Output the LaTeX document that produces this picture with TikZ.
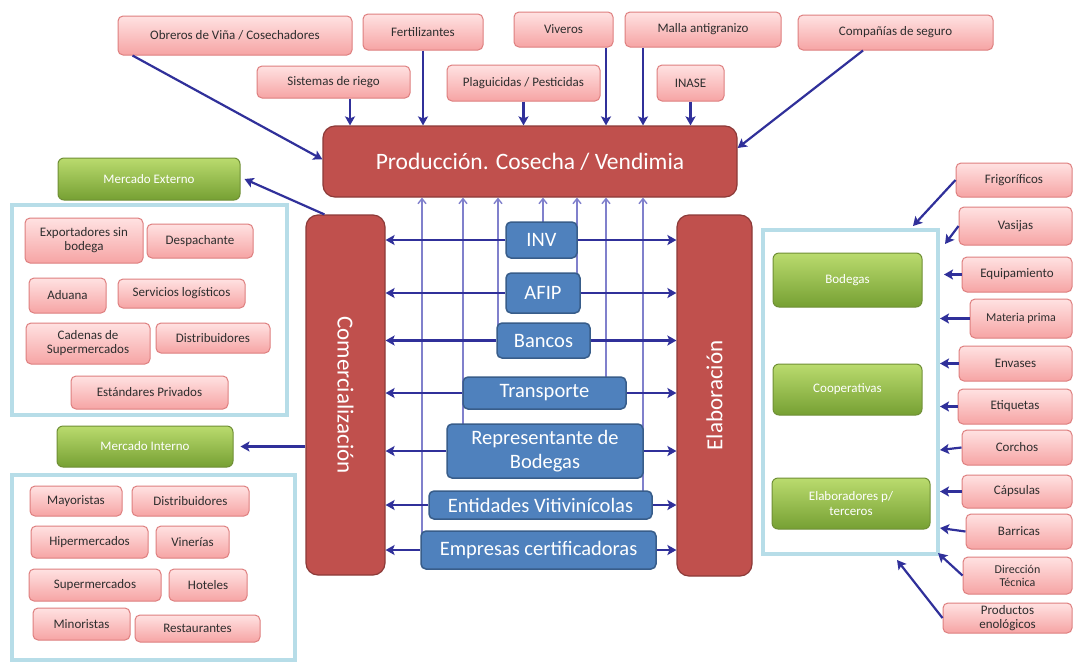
\documentclass[tikz,border=0pt]{standalone}
\usepackage{fontspec}
\setmainfont{Carlito}
\usetikzlibrary{arrows.meta,calc}
\definecolor{arrblue}{HTML}{30309A}
\definecolor{thinblue}{HTML}{8080CC}
\definecolor{redfill}{HTML}{C0504D}
\definecolor{reddraw}{HTML}{8C3A38}
\definecolor{bluefill}{HTML}{4F81BD}
\definecolor{bluedraw}{HTML}{385D8A}
\definecolor{pinktop}{HTML}{FFE2E2}
\definecolor{pinkbot}{HTML}{F6A4A4}
\definecolor{pinkdraw}{HTML}{DE7F7F}
\definecolor{greentop}{HTML}{BADB6E}
\definecolor{greenbot}{HTML}{76A033}
\definecolor{greendraw}{HTML}{6F8F35}
\definecolor{panelc}{HTML}{B7DDE8}
\definecolor{txtc}{HTML}{2E2E2E}
\newcommand\bx[7]{%
  \pgfmathsetmacro\bxW{#5-#3}%
  \pgfmathsetmacro\bxH{#6-#4}%
  \pgfmathsetmacro\bxX{(#3+#5)/2}%
  \pgfmathsetmacro\bxY{(#4+#6)/2}%
  \node[#1,minimum width=\bxW pt,minimum height=\bxH pt] (#2) at (\bxX,\bxY) {#7};}
\tikzset{
  pinkbox/.style={draw=pinkdraw,line width=1pt,rounded corners=5pt,top color=pinktop,bottom color=pinkbot,
    text=txtc,font=\fontsize{13}{14}\selectfont,align=center,inner sep=1pt},
  greenbox/.style={draw=greendraw,line width=1pt,rounded corners=6pt,top color=greentop,bottom color=greenbot,
    text=white,font=\fontsize{13}{15}\selectfont,align=center,inner sep=1pt},
  redbox/.style={draw=reddraw,line width=1.2pt,rounded corners=12pt,fill=redfill,text=white,
    font=\fontsize{23.5}{26}\selectfont,inner sep=1pt},
  bluebox/.style={draw=bluedraw,line width=1.5pt,rounded corners=5pt,fill=bluefill,text=white,
    font=\fontsize{20.5}{24}\selectfont,align=center,inner sep=1pt},
  panel/.style={draw=panelc,line width=4pt,fill=white,inner sep=0pt},
  arr/.style={draw=arrblue,line width=2.2pt,-{Stealth[length=9pt,width=10pt,inset=2pt]}},
  thinarr/.style={draw=thinblue,line width=1.4pt,-{Straight Barb[length=5pt,width=8pt]}},
  vtext/.style={text=white,font=\fontsize{23}{26}\selectfont}
}
\begin{document}
\begin{tikzpicture}[x=1pt,y=-1pt]
\useasboundingbox[fill=white] (0,0) rectangle (1073,662);
% panels
\bx{panel}{lpanA}{12}{205}{287}{415}{}
\bx{panel}{lpanB}{12}{475}{295}{660}{}
\bx{panel}{rpan}{763}{230}{938}{554}{}
% top suppliers
\bx{pinkbox}{obr}{118}{16}{352}{55}{Obreros de Viña / Cosechadores}
\bx{pinkbox}{fer}{363}{14}{483}{50}{Fertilizantes}
\bx{pinkbox}{viv}{514}{12}{613}{47}{Viveros}
\bx{pinkbox}{mal}{625}{12}{781}{47}{Malla antigranizo}
\bx{pinkbox}{cia}{798}{15}{993}{50}{Compañías de seguro}
\bx{pinkbox}{sis}{257}{66}{410}{98}{Sistemas de riego}
\bx{pinkbox}{pla}{447}{65}{600}{101}{Plaguicidas / Pesticidas}
\bx{pinkbox}{ina}{657}{65}{724}{101}{INASE}
% main red boxes
\bx{redbox}{prod}{323}{126}{737}{197}{Producción. Cosecha / Vendimia}
\bx{redbox}{com}{306}{215}{385}{575}{}
\node[vtext,rotate=-90] (comt) at (com.center) {Comercialización};
\bx{redbox}{ela}{677}{215}{752}{576}{}
\node[vtext,rotate=90] (elat) at (ela.center) {Elaboración};
% thin vertical lines (behind blue boxes)
\draw[thinarr] (422,0 |- 0,550) -- (422,0 |- prod.south);
\draw[thinarr] (463,0 |- 0,450) -- (463,0 |- prod.south);
\draw[thinarr] (498,0 |- 0,340) -- (498,0 |- prod.south);
\draw[thinarr] (543,0 |- 0,240) -- (543,0 |- prod.south);
\draw[thinarr] (577,0 |- 0,290) -- (577,0 |- prod.south);
\draw[thinarr] (606,0 |- 0,393) -- (606,0 |- prod.south);
\draw[thinarr] (643,0 |- 0,505) -- (643,0 |- prod.south);
% blue boxes
\bx{bluebox}{inv}{506}{222}{577}{258}{INV}
\bx{bluebox}{afip}{506}{273}{580}{313}{AFIP}
\bx{bluebox}{ban}{497}{323}{590}{358}{Bancos}
\bx{bluebox}{tra}{463}{377}{626}{409}{Transporte}
\bx{bluebox}{rep}{447}{424}{643}{478}{Representante de\\Bodegas}
\bx{bluebox}{ent}{429}{491}{652}{519}{Entidades Vitivinícolas}
\bx{bluebox}{emp}{421}{531}{656}{569}{Empresas certificadoras}
\foreach \b in {inv,afip,ban,tra,rep,ent,emp}{
  \draw[arr] (\b.west) -- (\b.west -| com.east);
  \draw[arr] (\b.east) -- (\b.east -| ela.west);
}
% left side
\bx{greenbox}{mext}{58}{158}{240}{200}{Mercado Externo}
\bx{pinkbox}{exp}{25}{218}{143}{263}{Exportadores sin\\bodega}
\bx{pinkbox}{des}{147}{224}{253}{258}{Despachante}
\bx{pinkbox}{adu}{29}{278}{106}{313}{Aduana}
\bx{pinkbox}{ser}{118}{279}{245}{308}{Servicios logísticos}
\bx{pinkbox}{cad}{26}{323}{150}{364}{Cadenas de\\Supermercados}
\bx{pinkbox}{disA}{156}{323}{270}{353}{Distribuidores}
\bx{pinkbox}{est}{71}{376}{228}{409}{Estándares Privados}
\bx{greenbox}{mint}{57}{426}{233}{467}{Mercado Interno}
\bx{pinkbox}{may}{30}{486}{122}{516}{Mayoristas}
\bx{pinkbox}{disB}{132}{486}{249}{516}{Distribuidores}
\bx{pinkbox}{hip}{31}{526}{148}{558}{Hipermercados}
\bx{pinkbox}{vin}{156}{526}{229}{558}{Vinerías}
\bx{pinkbox}{sup}{29}{569}{161}{601}{Supermercados}
\bx{pinkbox}{hot}{169}{569}{247}{601}{Hoteles}
\bx{pinkbox}{mino}{33}{608}{130}{640}{Minoristas}
\bx{pinkbox}{res}{135}{615}{260}{642}{Restaurantes}
\draw[arr] ($(com.north west)+(19,0)$) -- ($(mext.east)+(4,0)$);
\draw[arr] (com.west |- mint.east) -- ($(mint.east)+(7,0)$);
% right side
\bx{greenbox}{bod}{773}{253}{922}{307}{Bodegas}
\bx{greenbox}{coo}{773}{364}{922}{415}{Cooperativas}
\bx{greenbox}{elb}{772}{478}{930}{529}{Elaboradores p/\\terceros}
\bx{pinkbox}{fri}{956}{163}{1072}{197}{Frigoríficos}
\bx{pinkbox}{vas}{959}{207}{1072}{245}{Vasijas}
\bx{pinkbox}{equ}{962}{257}{1072}{292}{Equipamiento}
\bx{pinkbox,font=\fontsize{12}{13}\selectfont}{mat}{970}{299}{1072}{338}{Materia prima}
\bx{pinkbox}{env}{959}{346}{1072}{381}{Envases}
\bx{pinkbox}{eti}{958}{389}{1072}{424}{Etiquetas}
\bx{pinkbox}{cor}{962}{430}{1072}{465}{Corchos}
\bx{pinkbox}{cap}{962}{475}{1072}{508}{Cápsulas}
\bx{pinkbox}{bar}{966}{514}{1072}{549}{Barricas}
\bx{pinkbox,font=\fontsize{12}{13}\selectfont}{dir}{963}{557}{1072}{594}{Dirección\\Técnica}
\bx{pinkbox}{pro}{943}{603}{1072}{633}{Productos\\enológicos}
\coordinate (friE) at (913,226);
\coordinate (vasE) at (945,244);
\coordinate (corE) at (940,450);
\coordinate (barE) at (940,528);
\coordinate (dirE) at (938,553);
\coordinate (proE) at (897,560);
\draw[arr] (fri.west) -- (friE);
\draw[arr] (vas.west) -- (vasE);
\draw[arr] (equ.west) -- (944,0 |- equ.west);
\draw[arr] (mat.west) -- (940,0 |- mat.west);
\draw[arr] (env.west) -- (940,0 |- env.west);
\draw[arr] (eti.west) -- (940,0 |- eti.west);
\draw[arr] (cor.west) -- (corE);
\draw[arr] (cap.west) -- (940,0 |- cap.west);
\draw[arr] (bar.west) -- (barE);
\draw[arr] (dir.west) -- (dirE);
\draw[arr] (pro.west) -- (proE);
% top arrows
\draw[arr] ($(obr.south west)+(15,0)$) -- ($(prod.north west)+(0,34)$);
\draw[arr] (350,0 |- sis.south) -- (350,0 |- prod.north);
\draw[arr] (fer.south) -- (fer.south |- prod.north);
\draw[arr] (pla.south) -- (pla.south |- prod.north);
\draw[arr] (606,0 |- viv.south) -- (606,0 |- prod.north);
\draw[arr] (643,0 |- mal.south) -- (643,0 |- prod.north);
\draw[arr] (ina.south) -- (ina.south |- prod.north);
\draw[arr] (863,0 |- cia.south) -- (prod.east |- 0,148);
\end{tikzpicture}
\end{document}
